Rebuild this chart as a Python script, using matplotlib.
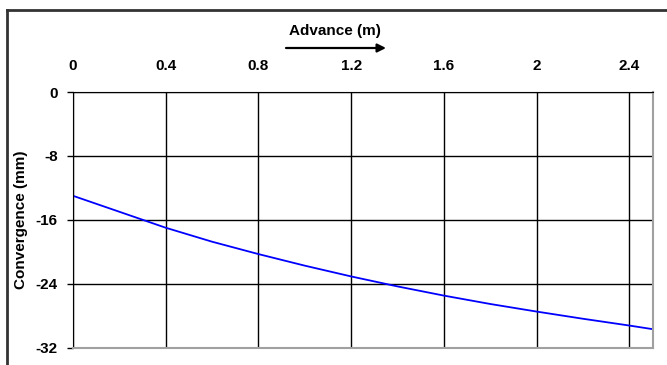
import matplotlib
matplotlib.use("Agg")
import matplotlib.pyplot as plt
from matplotlib.lines import Line2D
from matplotlib.patches import FancyArrowPatch

advance = [0.0, 0.2, 0.4, 0.6, 0.8, 1.0, 1.2, 1.4, 1.6, 1.8, 2.0, 2.2, 2.4, 2.5]
convergence = [-13.0, -15.0, -17.0, -18.75, -20.3, -21.75, -23.1, -24.35, -25.5, -26.55, -27.5, -28.4, -29.25, -29.7]
xticks = [0, 0.4, 0.8, 1.2, 1.6, 2.0, 2.4]
xticklabels = ["0", "0.4", "0.8", "1.2", "1.6", "2", "2.4"]
yticks = [0, -8, -16, -24, -32]

plt.rcParams['font.family'] = ['Liberation Sans', 'DejaVu Sans']

W, H = 667, 365
fig = plt.figure(figsize=(W/100, H/100), dpi=100)
ax = fig.add_axes([73/W, 1 - 347.5/H, (652.5-73)/W, (347.5-92)/H])

ax.plot(advance, convergence, color='#0000ff', lw=1.3)
ax.set_xlim(0, 2.5)
ax.set_ylim(-32, 0)
ax.xaxis.tick_top()
ax.set_xticks(xticks)
ax.set_xticklabels(xticklabels, fontsize=11, fontweight='bold')
ax.set_yticks(yticks)
ax.set_yticklabels([str(v) for v in yticks], fontsize=11, fontweight='bold')
ax.tick_params(axis='x', length=0, pad=14)
ax.tick_params(axis='y', length=4, width=1, color='black', pad=7)
ax.grid(True, color='black', lw=1)
for s in ['right', 'bottom']:
    ax.spines[s].set_color('#a0a0a0')
    ax.spines[s].set_linewidth(1.5)
for s in ['top', 'left']:
    ax.spines[s].set_color('black')
ax.set_ylabel('Convergence (mm)', fontsize=11, fontweight='bold')
ax.yaxis.set_label_coords((28 - 73) / (652.5 - 73), 0.5)

fig.text(334.5/W, 1 - 30.5/H, 'Advance (m)', fontsize=11, fontweight='bold', ha='center', va='center')
arr = FancyArrowPatch((286/W, 1 - 48/H), (386/W, 1 - 48/H), transform=fig.transFigure,
                      arrowstyle='-|>,head_length=5,head_width=2.5', color='black', lw=1.6,
                      mutation_scale=1, shrinkA=0, shrinkB=0)
fig.patches.append(arr)

# outer frame: top and left edges
fig.add_artist(Line2D([7/W, 1.0], [1 - 10/H, 1 - 10/H], transform=fig.transFigure, color='#333333', lw=2))
fig.add_artist(Line2D([7/W, 7/W], [0.0, 1 - 10/H], transform=fig.transFigure, color='#333333', lw=2))

fig.savefig('out.png', dpi=100)
